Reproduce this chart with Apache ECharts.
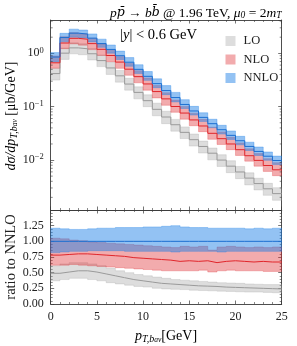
<!DOCTYPE html>
<html><head><meta charset="utf-8">
<script src="https://cdn.jsdelivr.net/npm/echarts@6/dist/echarts.min.js"></script>
<style>html,body{margin:0;padding:0;background:#fff}#c{width:297px;height:346px}</style>
</head><body><div id="c"></div><script>
// bins: pT from 0 to 25 GeV, width 1
const binLow = [0,1,2,3,4,5,6,7,8,9,10,11,12,13,14,15,16,17,18,19,20,21,22,23,24];
const binWidth = 1;
// NNLO central cross section [mu b / GeV] (top panel)
const nnloCentral = [0.85,1.97,2.38,2.29,1.92,1.52,1.18,0.90,0.68,0.50,0.37,0.27,0.20,0.148,0.110,0.083,0.063,0.048,0.037,0.029,0.023,0.018,0.0145,0.0118,0.0098];
// ratios to NNLO central (bottom panel)
const nnloRatioHi = [1.21,1.20,1.19,1.19,1.20,1.21,1.21,1.22,1.22,1.22,1.23,1.23,1.24,1.25,1.23,1.22,1.22,1.21,1.21,1.21,1.21,1.20,1.21,1.20,1.21];
const nnloRatioLo = [0.82,0.83,0.84,0.84,0.85,0.85,0.85,0.85,0.84,0.84,0.84,0.84,0.84,0.83,0.84,0.84,0.84,0.84,0.83,0.84,0.84,0.84,0.84,0.84,0.84];
const nnloRatio   = [1,1,1,1,1,1,1,1,1,1,1,1,1,1,1,1,1,1,1,1,1,1,1,1,1];
const nloRatio    = [0.78,0.79,0.80,0.80,0.79,0.78,0.77,0.76,0.74,0.73,0.72,0.71,0.70,0.68,0.69,0.68,0.69,0.66,0.68,0.69,0.68,0.67,0.68,0.67,0.67];
const nloRatioHi  = [1.05,1.04,1.02,1.01,0.99,0.98,0.97,0.96,0.95,0.94,0.93,0.92,0.91,0.90,0.92,0.91,0.92,0.86,0.91,0.92,0.91,0.90,0.91,0.90,0.91];
const nloRatioLo  = [0.62,0.62,0.63,0.62,0.61,0.60,0.59,0.58,0.57,0.56,0.55,0.54,0.53,0.53,0.53,0.53,0.54,0.51,0.53,0.54,0.53,0.53,0.53,0.52,0.52];
const loRatio     = [0.49,0.51,0.53,0.53,0.51,0.48,0.45,0.42,0.39,0.37,0.35,0.33,0.32,0.31,0.30,0.29,0.285,0.28,0.27,0.265,0.26,0.255,0.25,0.245,0.24];
const loRatioHi   = [0.61,0.64,0.66,0.66,0.64,0.61,0.57,0.53,0.50,0.47,0.45,0.43,0.41,0.39,0.38,0.37,0.36,0.35,0.34,0.335,0.33,0.32,0.315,0.31,0.31];
const loRatioLo   = [0.37,0.39,0.41,0.41,0.39,0.37,0.34,0.32,0.30,0.28,0.27,0.25,0.24,0.235,0.23,0.22,0.215,0.21,0.205,0.20,0.195,0.19,0.19,0.185,0.18];
const legendNames = ['LO','NLO','NNLO'];
const ratioTickLabels = ['0.00','0.25','0.50','0.75','1.00','1.25'];
const xTickLabels = ['0','5','10','15','20','25'];

const SERIF = '"Liberation Serif", "DejaVu Serif", serif';
const DSERIF = '"DejaVu Serif", "Liberation Serif", serif';
const FRAME = '#3a3a3a';
const TXT = '#222';
const style = {
  LO:   {fill:'rgba(160,160,160,0.36)', line:'#9a9a9a'},
  NLO:  {fill:'rgba(222,45,50,0.40)',   line:'#e0262b'},
  NNLO: {fill:'rgba(30,128,230,0.48)',  line:'#1c6fd1'}
};
const orders = {
  LO:   {c: loRatio,   lo: loRatioLo,   hi: loRatioHi},
  NLO:  {c: nloRatio,  lo: nloRatioLo,  hi: nloRatioHi},
  NNLO: {c: nnloRatio, lo: nnloRatioLo, hi: nnloRatioHi}
};
function absolute(arr){ return arr.map((r,i)=>r*nnloCentral[i]); }

function bandSeries(name, loArr, hiArr, xi, yi){
  const rows = binLow.map((x,i)=>[x, loArr[i], hiArr[i]]);
  return {
    type:'custom', name:name, xAxisIndex:xi, yAxisIndex:yi, data:rows,
    itemStyle:{color: style[name].fill},
    clip:true, z:2, silent:true,
    renderItem:function(params, api){
      if (params.dataIndex !== 0) return null;
      const up = [], dn = [];
      for (let i=0;i<rows.length;i++){
        up.push(api.coord([rows[i][0], rows[i][2]]), api.coord([rows[i][0]+binWidth, rows[i][2]]));
        dn.push(api.coord([rows[i][0], rows[i][1]]), api.coord([rows[i][0]+binWidth, rows[i][1]]));
      }
      const pts = up.concat(dn.reverse());
      return {type:'polygon', shape:{points:pts},
        style:{fill: style[name].fill, stroke: style[name].fill, lineWidth:0.7}};
    }
  };
}
function lineSeries(name, arr, xi, yi){
  const d = binLow.map((x,i)=>[x, arr[i]]);
  d.push([binLow[binLow.length-1]+binWidth, arr[arr.length-1]]);
  return {type:'line', name:name+'-c', xAxisIndex:xi, yAxisIndex:yi, data:d, step:'end',
    showSymbol:false, symbol:'none', lineStyle:{color:style[name].line, width:1}, z:4, silent:true, clip:true};
}

const series = [];
legendNames.forEach(n=>{ series.push(bandSeries(n, absolute(orders[n].lo), absolute(orders[n].hi), 0, 0)); });
legendNames.forEach(n=>{ series.push(lineSeries(n, absolute(orders[n].c), 0, 0)); });
legendNames.forEach(n=>{ series.push(bandSeries(n, orders[n].lo, orders[n].hi, 2, 2)); });
legendNames.forEach(n=>{ series.push(lineSeries(n, orders[n].c, 2, 2)); });

// log-axis minor ticks (2..9 x 10^k), drawn at left and right frame
const minorVals = [];
for (let e=-3;e<=0;e++) for (let m=2;m<=9;m++){ const v=m*Math.pow(10,e); if (v>0.00116 && v<4.2) minorVals.push(v); }
series.push({
  type:'custom', xAxisIndex:0, yAxisIndex:0, data:minorVals.map(v=>[0,v]), silent:true, z:6,
  renderItem:function(params, api){
    const v = api.value(1);
    const l = api.coord([0, v]), r = api.coord([25, v]);
    return {type:'group', children:[
      {type:'line', shape:{x1:l[0], y1:l[1], x2:l[0]+2, y2:l[1]}, style:{stroke:FRAME, lineWidth:0.6}},
      {type:'line', shape:{x1:r[0], y1:r[1], x2:r[0]-2, y2:r[1]}, style:{stroke:FRAME, lineWidth:0.6}}
    ]};
  }
});

function xAxis(grid, pos, labels){
  return {type:'value', gridIndex:grid, position:pos, min:0, max:25, interval:5,
    axisLine:{show:true, onZero:false, lineStyle:{color:FRAME, width:0.9}},
    axisTick:{show:true, inside:true, length:3.5, lineStyle:{color:FRAME, width:0.7}},
    minorTick:{show:true, splitNumber:5, length:2, lineStyle:{color:FRAME, width:0.6}},
    splitLine:{show:false},
    axisLabel:{show:labels, margin:7, color:TXT, fontFamily:SERIF, fontSize:12,
      formatter:v=>xTickLabels[Math.round(v/5)]}
  };
}
const logRich = {
  b:{fontFamily:SERIF, fontSize:12, color:TXT},
  s:{fontFamily:SERIF, fontSize:8.5, color:TXT, verticalAlign:'top', padding:[0,0,6,0]}
};
function logAxis(pos, labels){
  return {type:'log', logBase:10, gridIndex:0, position:pos, min:0.00116, max:4.2,
    axisLine:{show:true, onZero:false, lineStyle:{color:FRAME, width:0.9}},
    axisTick:{show:true, inside:true, length:3.5, lineStyle:{color:FRAME, width:0.7}},
    splitLine:{show:false},
    axisLabel:{show:labels, margin:7, showMinLabel:false, showMaxLabel:false,
      formatter:v=>{ const e=Math.round(Math.log10(v)); if (Math.abs(Math.log10(v)-e)>1e-6) return ''; return '{b|10}{s|'+(e<0?'\u2212'+(-e):e)+'}'; },
      rich:logRich}
  };
}
function ratioAxis(pos, labels){
  return {type:'value', gridIndex:1, position:pos, min:0, max:1.5, interval:0.25,
    axisLine:{show:true, onZero:false, lineStyle:{color:FRAME, width:0.9}},
    axisTick:{show:true, inside:true, length:3.5, lineStyle:{color:FRAME, width:0.7}},
    minorTick:{show:true, splitNumber:5, length:2, lineStyle:{color:FRAME, width:0.6}},
    splitLine:{show:false},
    axisLabel:{show:labels, margin:7, color:TXT, fontFamily:SERIF, fontSize:12,
      formatter:v=>{ const k=Math.round(v/0.25); return k<ratioTickLabels.length ? ratioTickLabels[k] : ''; }}
  };
}
const subRich = {
  i:{fontFamily:SERIF, fontStyle:'italic', fontSize:14, color:TXT},
  n:{fontFamily:SERIF, fontSize:14, color:TXT},
  sb:{fontFamily:SERIF, fontStyle:'italic', fontSize:10, color:TXT, verticalAlign:'bottom', padding:[5,0,0,0]},
  ss:{fontFamily:SERIF, fontStyle:'italic', fontSize:7.5, color:TXT, verticalAlign:'bottom', padding:[8,0,0,0]}
};

const chart = echarts.init(document.getElementById('c'), null, {renderer:'canvas'});
chart.setOption({
  animation:false,
  backgroundColor:'#fff',
  grid:[
    {left:50.7, top:20, width:231, height:190},
    {left:50.7, top:210, width:231, height:94}
  ],
  xAxis:[xAxis(0,'bottom',false), xAxis(0,'top',false), xAxis(1,'bottom',true), xAxis(1,'top',false)],
  yAxis:[logAxis('left',true), logAxis('right',false), ratioAxis('left',true), ratioAxis('right',false)],
  legend:{data:legendNames, orient:'vertical', left:220.5, top:29.5, icon:'rect', itemWidth:10, itemHeight:10, itemGap:5.5,
    itemStyle:{borderWidth:0},
    textStyle:{fontFamily:SERIF, fontSize:12.5, color:TXT, padding:[0,0,0,3]}, selectedMode:false},
  series:series,
  graphic:[
    {type:'text', x:281.5, y:13, style:{text:'{i|p}{bar|p\u0304} {n|\u2192} {i|b}{bar|b\u0304} {n|@ 1.96 TeV,} {i|\u03bc}{sb|0}{n| = 2}{i|m}{sb|T}',
      align:'right', verticalAlign:'middle',
      rich:{i:{fontFamily:SERIF, fontStyle:'italic', fontSize:13.5, color:TXT},
            bar:{fontFamily:DSERIF, fontStyle:'italic', fontSize:12.5, color:TXT},
            n:{fontFamily:SERIF, fontSize:13.5, color:TXT},
            sb:{fontFamily:SERIF, fontStyle:'italic', fontSize:9.5, color:TXT, verticalAlign:'bottom', padding:[5,0,0,0]}}}},
    {type:'text', x:158.5, y:35, style:{text:'{n||}{i|y}{n|| < 0.6 GeV}', align:'center', verticalAlign:'middle',
      rich:{i:{fontFamily:SERIF, fontStyle:'italic', fontSize:14.5, color:TXT}, n:{fontFamily:SERIF, fontSize:14.5, color:TXT}}}},
    {type:'text', x:11, y:116, rotation:Math.PI/2, style:{text:'{i|d\u03c3/dp}{sb|T,b}{ss|av}{n| [\u03bcb/GeV]}', align:'center', verticalAlign:'middle',
      rich:subRich}},
    {type:'text', x:11, y:257, rotation:Math.PI/2, style:{text:'ratio to NNLO', align:'center', verticalAlign:'middle',
      fontFamily:SERIF, fontSize:14.5, fill:TXT}},
    {type:'text', x:166, y:336, style:{text:'{i|p}{sb|T,b}{ss|av}{n|[GeV]}', align:'center', verticalAlign:'middle',
      rich:subRich}}
  ]
});
</script></body></html>
